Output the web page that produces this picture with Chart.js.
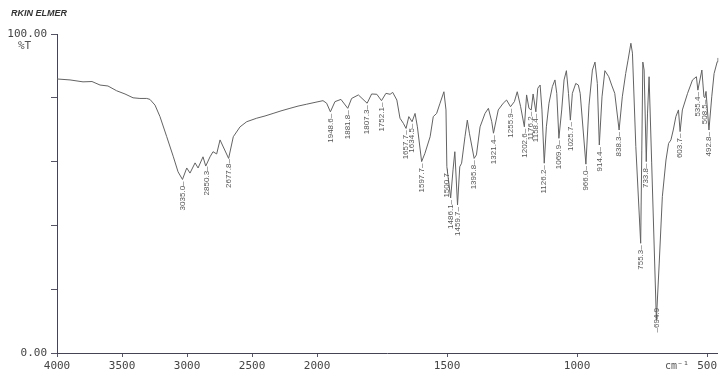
<!DOCTYPE html>
<html>
<head>
<meta charset="utf-8">
<title>IR spectrum</title>
<script src="https://cdn.jsdelivr.net/npm/chart.js@4.4.1/dist/chart.umd.min.js"></script>
<style>
    html, body { margin: 0; padding: 0; background: #ffffff; }
    #irChart { display: block; }
</style>
</head>
<body>
<canvas id="irChart" width="720" height="373"></canvas>
<script>
const waveNumbers = [
    4000, 3900, 3800, 3731, 3669, 3608, 3541, 3477, 3415, 3362,
    3310, 3285, 3246, 3208, 3156, 3105, 3069, 3035, 3002, 2977,
    2938, 2915, 2877, 2856, 2823, 2800, 2772, 2746, 2680, 2644,
    2592, 2541, 2464, 2400, 2338, 2277, 2208, 2146, 2079, 2000,
    1977, 1963, 1948.6, 1931, 1908, 1881.8, 1867, 1841, 1807.3, 1790,
    1770, 1752.1, 1735, 1719, 1709, 1693, 1681, 1668, 1657.7, 1647,
    1634.5, 1623, 1614, 1597.7, 1585, 1565, 1553, 1540, 1527, 1512,
    1504, 1500.7, 1486.1, 1477, 1470, 1459.7, 1451, 1444, 1431, 1422,
    1414, 1395.8, 1387, 1373, 1354, 1341, 1328, 1321.4, 1303, 1284,
    1271, 1255.9, 1241, 1230, 1217, 1202.6, 1194, 1185, 1176.2, 1169,
    1158.4, 1151, 1142, 1135, 1126.2, 1118, 1108, 1095, 1085, 1078,
    1069.9, 1059, 1050, 1041, 1033, 1025.7, 1018, 1005, 995, 988,
    966.0, 954, 941, 931, 922, 914.4, 904, 893, 878, 867,
    855, 838.3, 826, 813, 804, 793, 787, 774, 755.3, 751,
    747, 742, 733.8, 729, 723, 713, 694.9, 684, 672, 658,
    648, 639, 630, 620, 610, 603.7, 595, 575, 556, 541,
    535.4, 520, 512, 508.5, 504, 492.8, 482, 473, 461, 458
];

const transmittance = [
    85.9, 85.6, 85.0, 85.1, 84.0, 83.7, 82.2, 81.2, 80.0, 79.8,
    79.8, 79.5, 77.7, 74.1, 67.8, 61.5, 56.8, 54.4, 58.0, 56.4,
    59.6, 58.0, 61.5, 58.6, 61.5, 63.1, 62.4, 66.8, 61.0, 67.8,
    70.9, 72.5, 73.6, 74.3, 75.1, 75.9, 76.7, 77.4, 78.0, 78.7,
    79.1, 78.3, 75.6, 78.8, 79.5, 76.7, 79.8, 80.9, 78.3, 81.2,
    81.1, 79.1, 81.4, 81.1, 81.7, 79.3, 73.6, 72.0, 70.4, 74.1,
    72.5, 75.1, 70.9, 60.0, 62.6, 67.8, 74.1, 75.1, 78.3, 81.9,
    76.2, 58.4, 48.6, 57.4, 63.1, 46.4, 58.4, 59.5, 67.8, 73.0,
    68.9, 61.0, 62.1, 70.9, 75.1, 76.7, 72.5, 68.9, 76.2, 78.3,
    79.3, 77.2, 78.8, 81.9, 77.2, 70.9, 80.9, 76.7, 76.2, 81.2,
    75.6, 83.0, 84.0, 76.2, 59.5, 70.9, 78.3, 83.5, 85.6, 81.4,
    67.3, 76.2, 85.6, 88.5, 81.4, 73.0, 81.4, 84.5, 84.0, 81.4,
    59.2, 77.7, 88.7, 91.2, 84.5, 65.2, 80.3, 88.5, 86.6, 84.0,
    81.4, 69.9, 80.3, 87.6, 91.8, 97.1, 94.0, 64.7, 34.4, 63.6,
    91.2, 88.7, 60.0, 75.2, 86.6, 59.6, 10.3, 28.2, 49.0, 60.5,
    65.7, 66.8, 69.9, 74.1, 76.2, 69.4, 76.2, 81.4, 85.6, 86.6,
    82.4, 88.7, 80.3, 80.0, 82.0, 69.9, 80.3, 87.6, 91.3, 92.5
];

const peakLabels = [
    '3035.0', '2850.3', '2677.8', '1948.6', '1881.8', '1807.3', '1752.1',
    '1657.7', '1634.5', '1597.7', '1500.7', '1486.1', '1459.7', '1395.8',
    '1321.4', '1255.9', '1202.6', '1176.2', '1158.4', '1126.2', '1069.9',
    '1025.7', '966.0', '914.4', '838.3', '755.3', '733.8', '694.9',
    '603.7', '535.4', '508.5', '492.8'
];
// the deepest band has its label printed across the minimum
const peakLabelsCentered = ['694.9'];

const xTicks = [4000, 3500, 3000, 2500, 2000, 1500, 1000, 500];
const yTicks = [0, 20, 40, 60, 80, 100];
const yTickLabelled = [0, 100];
const xRange = [4000, 458];

// above 2000 cm-1 the chart uses half the scale of the region below it
function axisPosition(wn) {
    return wn >= 2000 ? (4000 - wn) / 2 : 1000 + (2000 - wn);
}

function wnFromPosition(p) {
    return p <= 1000 ? 4000 - p * 2 : 2000 - (p - 1000);
}

class SplitWavenumberScale extends Chart.LinearScale {
    determineDataLimits() {
        this.min = xRange[1];
        this.max = xRange[0];
    }

    buildTicks() {
        return xTicks.map(function (v) { return { value: v }; });
    }

    getPixelForValue(value) {
        return this.getPixelForDecimal(axisPosition(value) / axisPosition(this.min));
    }

    getValueForPixel(pixel) {
        return wnFromPosition(this.getDecimalForPixel(pixel) * axisPosition(this.min));
    }
}
SplitWavenumberScale.id = 'splitWavenumber';
SplitWavenumberScale.defaults = Chart.LinearScale.defaults;
Chart.register(SplitWavenumberScale);

function transmittanceAt(wn) {
    for (let i = 1; i < waveNumbers.length; i++) {
        const a = waveNumbers[i - 1];
        const b = waveNumbers[i];
        if (wn <= a && wn >= b) {
            const t = (a - wn) / (a - b);
            return transmittance[i - 1] + t * (transmittance[i] - transmittance[i - 1]);
        }
    }
    return transmittance[transmittance.length - 1];
}

const annotationPlugin = {
    id: 'irAnnotations',
    afterDraw: function (chart) {
        const ctx = chart.ctx;
        const xScale = chart.scales.x;
        const yScale = chart.scales.y;

        ctx.save();
        ctx.fillStyle = '#333333';
        ctx.font = 'italic bold 9px "Liberation Sans"';
        ctx.textBaseline = 'middle';
        ctx.fillText('RKIN ELMER', 11, 14);

        ctx.fillStyle = '#555555';
        ctx.font = '11px "DejaVu Sans Mono"';
        ctx.fillText('%T', 18, 46);
        ctx.font = '10px "DejaVu Sans Mono"';
        ctx.fillText('cm⁻¹', 665, 366);

        ctx.font = '8px "Liberation Sans"';
        peakLabels.forEach(function (label) {
            const wn = parseFloat(label);
            const x = xScale.getPixelForValue(wn);
            const y = yScale.getPixelForValue(transmittanceAt(wn));
            const centered = peakLabelsCentered.includes(label);
            ctx.save();
            ctx.translate(x, centered ? y : y + 2);
            ctx.rotate(-Math.PI / 2);
            ctx.textBaseline = 'middle';
            if (centered) {
                ctx.textAlign = 'center';
                ctx.fillText('–' + label, 0, 0);
            } else {
                ctx.textAlign = 'right';
                ctx.fillText(label + '–', 0, 0);
            }
            ctx.restore();
        });
        ctx.restore();
    }
};

const spectrumPoints = waveNumbers.map(function (wn, i) {
    return { x: wn, y: transmittance[i] };
});

new Chart(document.getElementById('irChart'), {
    type: 'line',
    data: {
        datasets: [{
            data: spectrumPoints,
            borderColor: '#636363',
            borderWidth: 1,
            pointRadius: 0,
            tension: 0,
            fill: false
        }]
    },
    options: {
        responsive: false,
        animation: false,
        layout: { padding: { top: 34, right: 0, bottom: 0, left: 0 } },
        plugins: {
            legend: { display: false },
            tooltip: { enabled: false }
        },
        scales: {
            x: {
                type: 'splitWavenumber',
                grid: { drawOnChartArea: false, tickLength: 4, color: '#555566' },
                border: { color: '#444455', width: 1 },
                ticks: {
                    autoSkip: false,
                    maxRotation: 0,
                    padding: 3,
                    color: '#444444',
                    font: { family: 'DejaVu Sans Mono', size: 11 },
                    callback: function (value) { return String(value); }
                },
                afterFit: function (scale) { scale.height = 20; }
            },
            y: {
                min: 0,
                max: 100,
                afterBuildTicks: function (scale) {
                    scale.ticks = yTicks.map(function (v) { return { value: v }; });
                },
                grid: { drawOnChartArea: false, tickLength: 6, color: '#555566' },
                border: { color: '#444455', width: 1 },
                ticks: {
                    padding: 4,
                    color: '#444444',
                    font: { family: 'DejaVu Sans Mono', size: 11 },
                    callback: function (value) {
                        return yTickLabelled.includes(value) ? value.toFixed(2) : '';
                    }
                },
                afterFit: function (scale) { scale.width = 57; }
            }
        }
    },
    plugins: [annotationPlugin]
});
</script>
</body>
</html>
